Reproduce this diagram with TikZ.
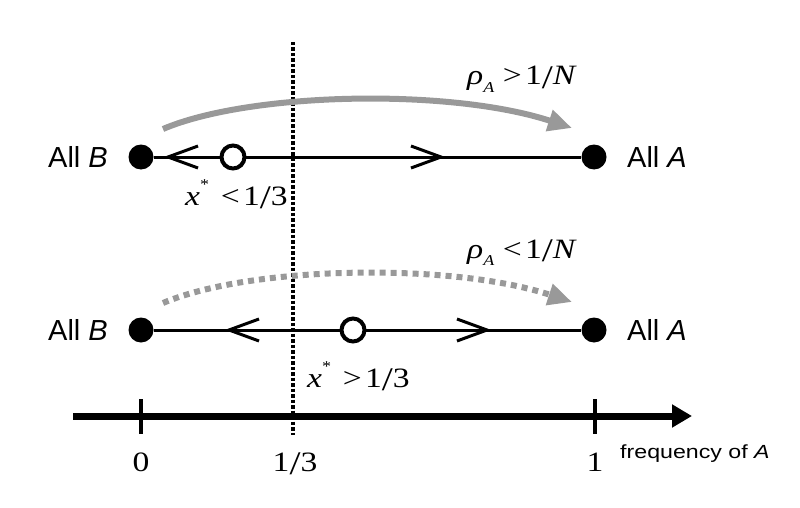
\documentclass[tikz,border=0pt]{standalone}
\usepackage{fontspec}
\setmainfont{Liberation Serif}
\setsansfont{Liberation Sans}
\usetikzlibrary{arrows.meta}
\definecolor{arcgray}{HTML}{999999}
\newcommand{\wide}[1]{\scalebox{1.2}[1]{#1}}
\newcommand{\bslash}{\raisebox{-0.12em}{\fontsize{33}{33}\selectfont/}}
\begin{document}
\begin{tikzpicture}[x=1pt,y=-1pt,
  fulldot/.style={circle, fill=black, inner sep=0pt, minimum size=25pt},
  opendot/.style={circle, draw=black, line width=4pt, fill=white, inner sep=0pt, minimum size=23pt},
  alllbl/.style={font=\sffamily\fontsize{29}{29}\selectfont, inner sep=0pt},
  mlbl/.style={font=\fontsize{28}{28}\selectfont, inner sep=0pt},
  mainline/.style={line width=3pt},
  chev/.style={line width=3pt, line cap=butt, line join=miter},
  arcline/.style={line width=6pt, draw=arcgray, -{Triangle[length=24pt,width=21pt]}},
  dottedarc/.style={arcline, dash pattern=on 6pt off 5pt},
  vline/.style={line width=3.5pt, dash pattern=on 3.5pt off 2pt},
  axisline/.style={line width=7pt, -{Triangle[length=20pt,width=22pt]}},
  tick/.style={line width=4pt}
]
\useasboundingbox (0,0) rectangle (800,508);

% vertical dotted line
\coordinate (vtop) at (293,42);
\coordinate (vbot) at (293,435);
\draw[vline] (vtop) -- (vbot);

% ---------- top row ----------
\draw[arcline] (163,129) .. controls (250,92) and (450,88) .. (572,128) coordinate (t1);
\node[mlbl, anchor=base west] (rho1) at (467,85) {\wide{\textit{ρ}\raisebox{-0.28em}{\fontsize{15}{15}\selectfont\textit{A}}\hspace{0.25em}>\hspace{0.1em}1\bslash\textit{N}}};

\node[fulldot] (b1) at (141,157) {};
\node[fulldot] (a1) at (594,157) {};
\draw[mainline] (b1) -- (a1);
\node[opendot] (x1) at (233,157) {};
\draw[chev] (198,146) -- (168,157) -- (198,168);
\draw[chev] (411,146) -- (441,157) -- (411,168);
\node[alllbl] (lb1) at (78,157) {All \textit{B}};
\node[alllbl, anchor=west] (la1) at (627,157) {All \textit{A}};
\node[mlbl, anchor=base west] (xs1) at (185,205) {\wide{\textit{x}\raisebox{0.55em}{\fontsize{15}{15}\selectfont *}\hspace{0.35em}<\hspace{0.1em}1\bslash 3}};

% ---------- bottom row ----------
\draw[dottedarc] (163,303) .. controls (250,266) and (450,262) .. (572,302) coordinate (t2);
\node[mlbl, anchor=base west] (rho2) at (467,258) {\wide{\textit{ρ}\raisebox{-0.28em}{\fontsize{15}{15}\selectfont\textit{A}}\hspace{0.25em}<\hspace{0.1em}1\bslash\textit{N}}};

\node[fulldot] (b2) at (141,330) {};
\node[fulldot] (a2) at (594,330) {};
\draw[mainline] (b2) -- (a2);
\node[opendot] (x2) at (353,330) {};
\draw[chev] (259,319) -- (229,330) -- (259,341);
\draw[chev] (457,319) -- (487,330) -- (457,341);
\node[alllbl] (lb2) at (78,330) {All \textit{B}};
\node[alllbl, anchor=west] (la2) at (627,330) {All \textit{A}};
\node[mlbl, anchor=base west] (xs2) at (307,387) {\wide{\textit{x}\raisebox{0.55em}{\fontsize{15}{15}\selectfont *}\hspace{0.35em}>\hspace{0.1em}1\bslash 3}};

% ---------- axis ----------
\coordinate (ax0) at (73,416);
\coordinate (ax1) at (692,416);
\draw[axisline] (ax0) -- (ax1);
\coordinate (t0a) at (141,399); \coordinate (t0b) at (141,434);
\coordinate (t1a) at (595,399); \coordinate (t1b) at (595,434);
\draw[tick] (t0a) -- (t0b);
\draw[tick] (t1a) -- (t1b);
\node[mlbl, anchor=base] (l0) at (141,471) {\wide{0}};
\node[mlbl, anchor=base] (l13) at (295,471) {\wide{1\bslash 3}};
\node[mlbl, anchor=base] (l1) at (595,471) {\wide{1}};
\node[inner sep=0pt, anchor=base west, font=\sffamily\fontsize{19}{19}\selectfont] (freq) at (620,458) {\scalebox{1.22}[1]{frequency of \textit{A}}};
\end{tikzpicture}
\end{document}
